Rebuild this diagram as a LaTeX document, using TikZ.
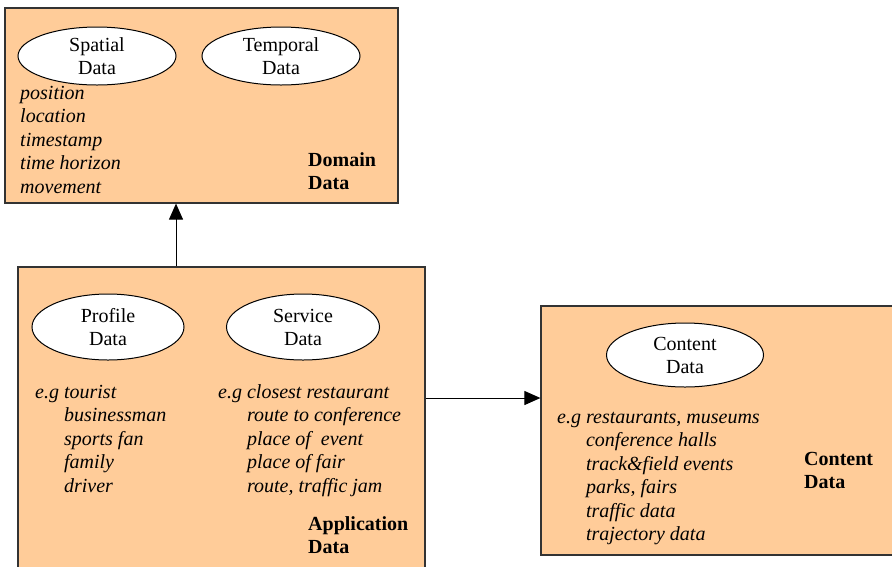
\documentclass[tikz,border=0pt]{standalone}
\usepackage{fontspec}
\setmainfont{Liberation Serif}
\usetikzlibrary{shapes.geometric,arrows.meta}
\definecolor{peach}{RGB}{255,204,153}
\tikzset{
  databox/.style={draw=black!80, fill=peach, line width=1.2pt, inner sep=0pt},
  dataset/.style={ellipse, draw, fill=white, line width=1pt, minimum width=158pt,
    minimum height=58pt, inner sep=0pt, align=center, font=\fontsize{20}{23}\selectfont},
  itemlist/.style={anchor=base west, inner sep=0pt, font=\fontsize{20}{23.5}\selectfont\itshape},
  boxtitle/.style={anchor=base west, inner sep=0pt, font=\fontsize{20}{23}\selectfont\bfseries},
  link/.style={line width=1pt, -{Triangle[length=16pt,width=14pt]}}
}

\begin{document}
\begin{tikzpicture}[x=1pt,y=-1pt]
			\useasboundingbox (0,0) rectangle (892,566);
			
			%%%%% BOXES %%%%%
			\node[databox, minimum width=393pt, minimum height=195pt] (domain) at (201.5,105.5) {};
			\node[databox, minimum width=407pt, minimum height=308pt] (app) at (221.5,421) {};
			\node[databox, minimum width=356pt, minimum height=249pt] (content) at (719,430.5) {};
			
			%%%%% DOMAIN %%%%%
			\node[dataset] (spatial) at (97,56) {Spatial\\Data};
			\node[dataset] (temporal) at (281,56) {Temporal\\Data};
			\node[itemlist] (domainitems) at (20,99) {\begin{tabular}[t]{@{}l@{}}
				position\\ location\\ timestamp\\ time horizon\\ movement\end{tabular}};
			\node[boxtitle] (domaintitle) at (308,166) {\begin{tabular}[t]{@{}l@{}}Domain\\ Data\end{tabular}};
			
			%%%%% APPLICATION %%%%%
			\node[dataset, minimum width=152pt, minimum height=66pt] (profile) at (108,327) {Profile\\Data};
			\node[dataset, minimum width=153pt, minimum height=66pt] (service) at (303,327) {Service\\Data};
			\node[itemlist] (profileitems) at (35,398) {\begin{tabular}[t]{@{}l@{ }l@{}}
				e.g & tourist\\ & businessman\\ & sports fan\\ & family\\ & driver\end{tabular}};
			\node[itemlist] (serviceitems) at (218,398) {\begin{tabular}[t]{@{}l@{ }l@{}}
				e.g & closest restaurant\\ & route to conference\\ & place of~ event\\ & place of fair\\ & route, traffic jam\end{tabular}};
			\node[boxtitle] (apptitle) at (308,530) {\begin{tabular}[t]{@{}l@{}}Application\\ Data\end{tabular}};
			
			%%%%% CONTENT %%%%%
			\node[dataset, minimum width=157pt, minimum height=64pt] (contentset) at (685,355) {Content\\Data};
			\node[itemlist] (contentitems) at (557,423) {\begin{tabular}[t]{@{}l@{ }l@{}}
				e.g & restaurants, museums\\ & conference halls\\ & track\&field events\\ & parks, fairs\\ & traffic data\\ & trajectory data\end{tabular}};
			\node[boxtitle] (contenttitle) at (804,465) {\begin{tabular}[t]{@{}l@{}}Content\\ Data\end{tabular}};
			
			%%%%% LINKS %%%%%
			\coordinate (up) at (176,0);
			\coordinate (across) at (0,398);
			\draw[link] (up |- app.north) -- (up |- domain.south);
			\draw[link] (across -| app.east) -- (across -| content.west);
\end{tikzpicture}
\end{document}
